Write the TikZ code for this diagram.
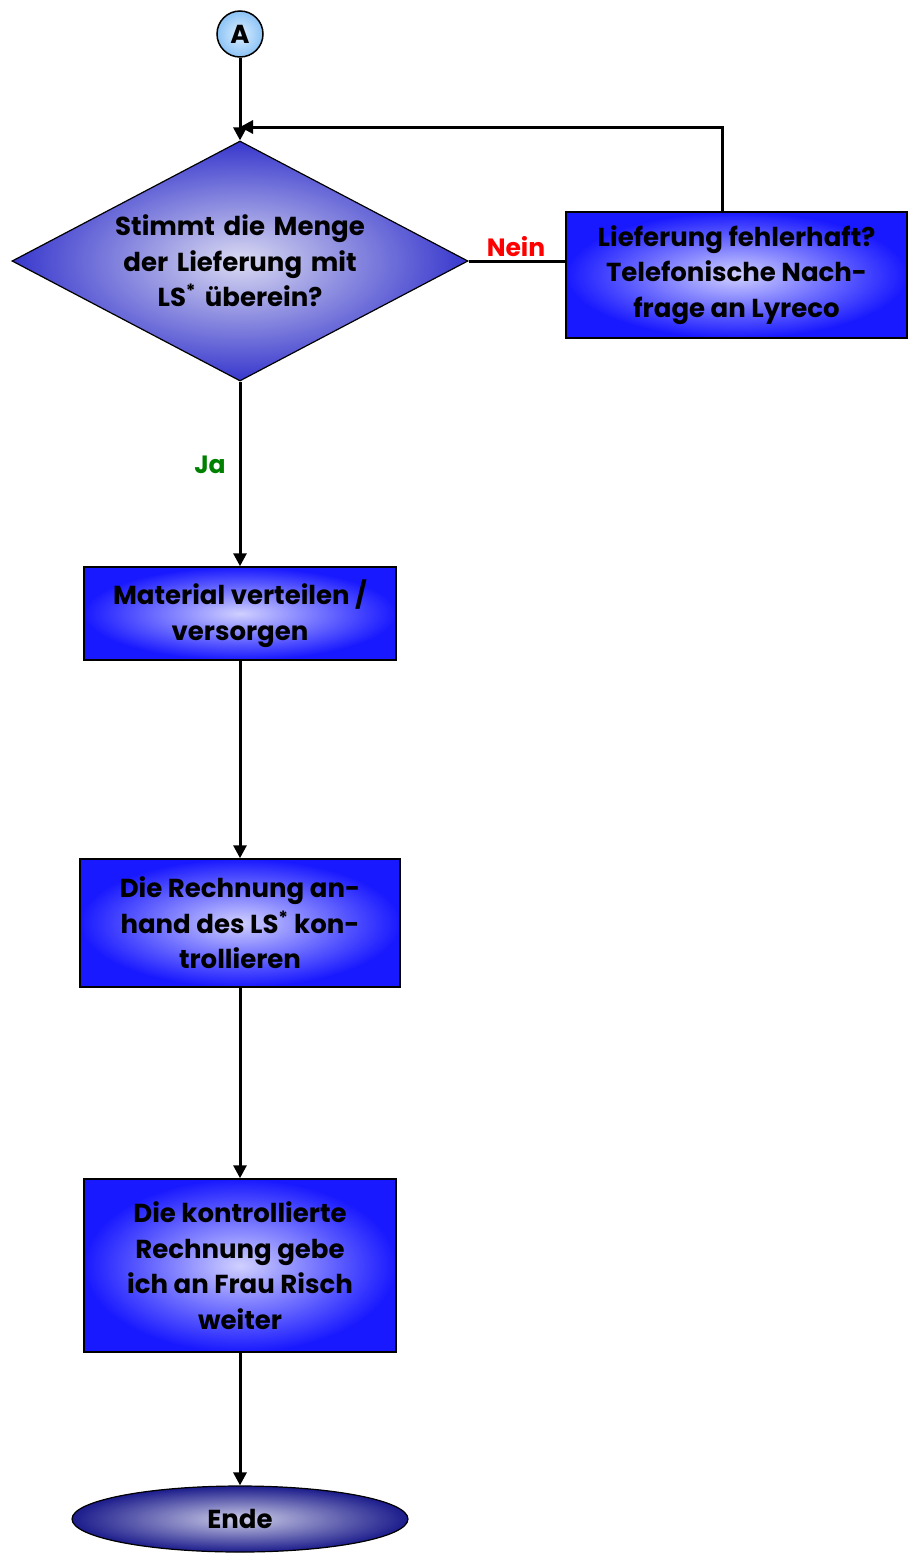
\documentclass[tikz,border=0pt]{standalone}
\usepackage{fontspec}
\setmainfont{Poppins}
\usetikzlibrary{shapes.geometric,arrows.meta}
\definecolor{boxout}{RGB}{25,25,255}
\definecolor{boxin}{RGB}{208,208,255}
\definecolor{diaout}{RGB}{55,55,205}
\definecolor{diain}{RGB}{218,218,242}
\definecolor{ellout}{RGB}{28,28,140}
\definecolor{ellin}{RGB}{205,205,232}
\definecolor{circout}{RGB}{140,195,245}
\definecolor{circin}{RGB}{220,238,255}
\definecolor{neinred}{RGB}{255,0,0}
\definecolor{jagreen}{RGB}{0,128,0}
\tikzset{
  txt/.style={font=\bfseries\fontsize{26}{35.5}\selectfont, align=center, text=black},
  procbox/.style={txt, draw=black, line width=1.5pt, rectangle, inner color=boxin, outer color=boxout, inner sep=0pt},
  decision/.style={txt, draw=black, line width=1.2pt, diamond, aspect=1.9, inner sep=0pt, inner color=diain, outer color=diaout},
  terminal/.style={txt, draw=black, line width=1.2pt, ellipse, inner sep=0pt, inner color=ellin, outer color=ellout},
  connector/.style={txt, draw=black, line width=1.5pt, circle, inner sep=0pt, minimum size=46pt, inner color=circin, outer color=circout},
  flow/.style={line width=3pt, draw=black, -{Triangle[length=13pt,width=13pt]}},
  plain/.style={line width=3pt, draw=black},
  lbl/.style={font=\bfseries\fontsize{25}{28}\selectfont}
}
\begin{document}
\begin{tikzpicture}[x=1pt,y=-1pt]
\useasboundingbox (0,0) rectangle (911,1553);
\node[connector] (A) at (240,34) {A};
\node[decision, text width=250pt, minimum width=456pt, minimum height=240pt] (d) at (240,261) {Stimmt die Menge\\der Lieferung mit\\LS\textsuperscript{*} überein?};
\node[procbox, minimum width=341pt, minimum height=126pt] (nein) at (736.5,275) {Lieferung fehlerhaft?\\Telefonische Nach-\\frage an Lyreco};
\node[procbox, minimum width=312pt, minimum height=93pt] (b2) at (240,613.5) {Material verteilen /\\versorgen};
\node[procbox, minimum width=320pt, minimum height=128pt] (b3) at (240,923) {Die Rechnung an-\\hand des LS\textsuperscript{*} kon-\\trollieren};
\node[procbox, minimum width=312pt, minimum height=173pt] (b4) at (240,1265.5) {Die kontrollierte\\Rechnung gebe\\ich an Frau Risch\\weiter};
\node[terminal, minimum width=336pt, minimum height=66pt] (end) at (240,1519) {Ende};
\coordinate (j) at (240,127);
\coordinate (nt) at (722,212);
\draw[flow] (A.south) -- (d.north);
\draw[flow] (nt) |- (j);
\draw[plain] (d.east) -- (d.east -| nein.west);
\node[lbl, text=neinred] (nl) at (516,247) {Nein};
\draw[flow] (d.south) -- (b2.north);
\node[lbl, text=jagreen] (jl) at (210,465) {Ja};
\draw[flow] (b2.south) -- (b3.north);
\draw[flow] (b3.south) -- (b4.north);
\draw[flow] (b4.south) -- (end.north);
\end{tikzpicture}
\end{document}
